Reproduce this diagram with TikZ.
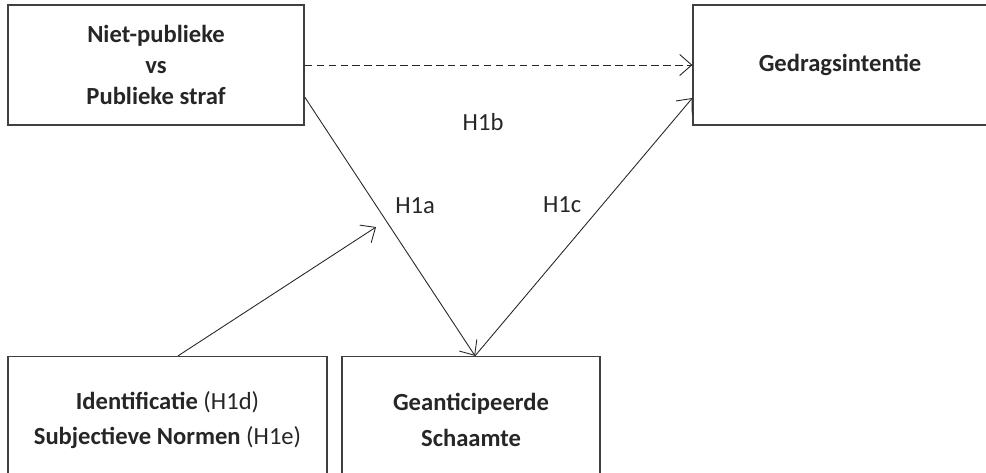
\documentclass[tikz,border=0pt]{standalone}
\usepackage{fontspec}
\setmainfont{Carlito}
\usetikzlibrary{positioning,arrows.meta}

\begin{document}
\begin{tikzpicture}[]
%% Draw frame
  \useasboundingbox (0,0) rectangle (19.72,-9.44);
  \clip (0,0) rectangle (19.72,-9.44);

%% Draw hypothesis model
  \begin{scope}[x=0.02cm,y=-0.02cm,
       node distance=1cm,on grid,>={Straight Barb[length=2.4mm,width=4.2mm]},
       line width=0.5pt,black!85,
       blok/.style={rectangle,draw=black!75,line width=0.75pt,inner sep=0pt,align=center,
         text=black!85,font=\fontsize{14}{17.6}\selectfont\bfseries},
       blokwijd/.style={blok,font=\fontsize{14}{20.4}\selectfont\bfseries},
       hyp/.style={anchor=base,text=black!85,font=\fontsize{14}{17}\selectfont},]
   \node [blok,minimum width=5.92cm,minimum height=2.4cm] (publiek) at (156,65) {Niet-publieke\\ vs\\ Publieke straf};
   \node [blok,minimum width=5.88cm,minimum height=2.4cm] (gedrag) [right=13.68cm of publiek] {Gedragsintentie};
   \node [blokwijd,minimum width=6.38cm,minimum height=2.54cm] (ident) [below=7.1cm of publiek,xshift=0.23cm]
         {Identificatie {\mdseries (H1d)}\\ Subjectieve Normen {\mdseries (H1e)}};
   \node [blokwijd,minimum width=5.16cm,minimum height=2.54cm] (schaamte) [right=6.07cm of ident] {Geanticipeerde\\ Schaamte};
   \coordinate (moderatie) at (376,227);
   % arrows
   \draw[->,dash pattern=on 4.2pt off 2.6pt] (publiek.east) -- (gedrag.west);
   \draw[->] ([yshift=-0.64cm]publiek.east) -- ([xshift=0.08cm]schaamte.north);
   \draw[->] ([xshift=0.08cm]schaamte.north) -- ([yshift=-0.66cm]gedrag.west);
   \draw[->] ([xshift=0.21cm]ident.north) -- (moderatie);
   % labels
   \node [hyp] (h1a) at (415,213) {H1a};
   \node [hyp] (h1b) at (483,130) {H1b};
   \node [hyp] (h1c) at (562,212) {H1c};
  \end{scope}
\end{tikzpicture}
\end{document}
